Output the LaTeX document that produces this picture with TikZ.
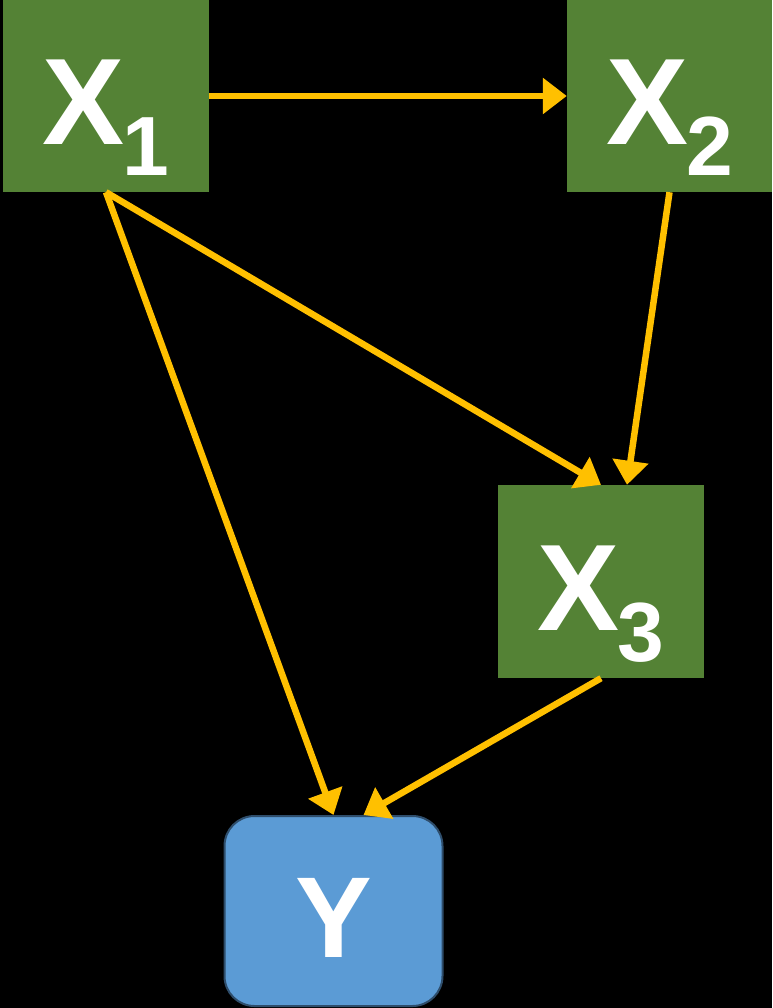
\documentclass[tikz,border=0pt]{standalone}
\usepackage{fontspec}
\setmainfont{Liberation Sans}
\usetikzlibrary{arrows.meta}
\definecolor{boxgreen}{HTML}{548235}
\definecolor{arrowgold}{HTML}{FFC000}
\definecolor{outcomeblue}{HTML}{5B9BD5}
\definecolor{outcomeedge}{HTML}{2E4D6B}
\newcommand{\varlabel}[2]{{\fontsize{123}{123}\selectfont\bfseries #1\kern-2pt\raisebox{-31pt}{\fontsize{84}{84}\selectfont\bfseries #2}}}
\tikzset{
  varbox/.style={fill=boxgreen, draw=none, inner sep=0pt, minimum width=206pt,
    minimum height=192pt, text=white, text height=98pt, text depth=0pt, align=center},
  outbox/.style={fill=outcomeblue, draw=outcomeedge, line width=2pt, rounded corners=30pt,
    inner sep=0pt, minimum width=218pt, minimum height=190pt, text=white,
    text height=92pt, text depth=0pt,
    font=\fontsize{115}{115}\selectfont\bfseries},
  link/.style={draw=arrowgold, line width=6.5pt,
    -{Triangle[length=24pt,width=35pt]}}
}
\begin{document}
\begin{tikzpicture}[x=1pt,y=-1pt]
  \fill[black] (0,0) rectangle (772,1008);
  \useasboundingbox (0,0) rectangle (772,1008);
  \node[varbox] (x1) at (106,96) {\varlabel{X}{1}};
  \node[varbox, minimum width=205pt] (x2) at (669.5,96) {\varlabel{X}{2}};
  \node[varbox, minimum height=193pt] (x3) at (601,581.5) {\varlabel{X}{3}};
  \node[outbox] (y) at (333.5,911) {Y};
  \draw[link] (x1.east) -- (x2.west);
  \draw[link] (x1.south) -- (x3.north);
  \draw[link] (x1.south) -- (y.north);
  \draw[link] (x2.south) -- ([xshift=26pt]x3.north);
  \draw[link] (x3.south) -- ([xshift=30pt]y.north);
\end{tikzpicture}
\end{document}
